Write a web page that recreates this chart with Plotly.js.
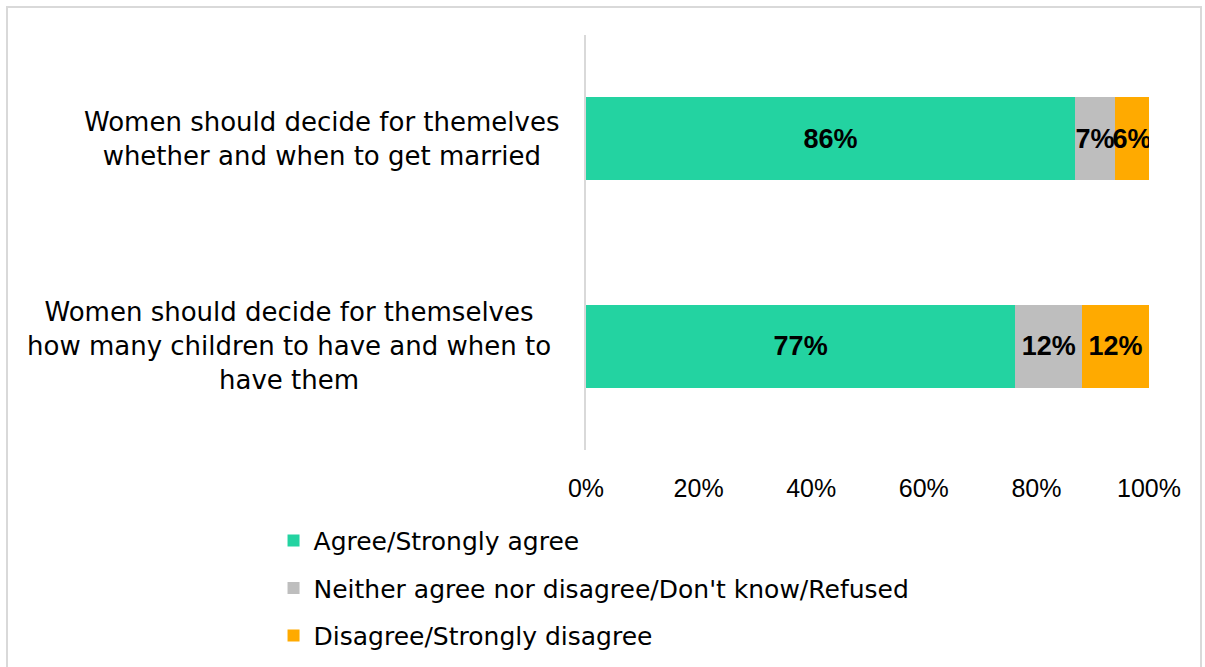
<!DOCTYPE html>
<html>
<head>
<meta charset="utf-8">
<script src="https://cdn.plot.ly/plotly-3.0.1.min.js"></script>
<style>
  html, body { margin: 0; padding: 0; background: #fff; }
  #chart { width: 1205px; height: 667px; }
  #frame { position: absolute; left: 6px; top: 6px; width: 1196px; height: 670px;
           border: 2px solid #d9d9d9; pointer-events: none; box-sizing: border-box; }
</style>
</head>
<body>
<div id="chart"></div>
<div id="frame"></div>
<script>
const categories = [
  "Women should decide for themelves<br>whether and when to get married",
  "Women should decide for themselves<br>how many children to have and when to<br>have them"
];
const seriesNames = [
  "Agree/Strongly agree",
  "Neither agree nor disagree/Don't know/Refused",
  "Disagree/Strongly disagree"
];
const agree = [86, 77];
const neither = [7, 12];
const disagree = [6, 12];
const xTickVals = [0, 20, 40, 60, 80, 100];
const xTickText = ["0%", "20%", "40%", "60%", "80%", "100%"];

const colors = ["#23D3A1", "#BEBEBE", "#FFAA00"];
const values = [agree, neither, disagree];
const catIds = ["c1", "c2"];
const labelShift = [-24, -33];

const traces = values.map((v, i) => ({
  type: "bar",
  orientation: "h",
  name: seriesNames[i],
  y: catIds,
  x: v,
  marker: { color: colors[i] },
  text: v.map(d => d + "%"),
  textposition: "inside",
  insidetextanchor: "middle",
  textangle: 0,
  constraintext: "none",
  textfont: { family: "Liberation Sans Narrow, Liberation Sans, sans-serif", size: 27, color: "#000", weight: "bold" },
  hoverinfo: "none",
  legendgroup: "g" + i
}));

const annotations = catIds.map((c, i) => ({
  xref: "paper", yref: "y",
  x: 0, y: c,
  xanchor: "right", yanchor: "middle",
  xshift: labelShift[i],
  text: categories[i],
  align: "center",
  showarrow: false,
  font: { family: "DejaVu Sans, sans-serif", size: 26, color: "#000" }
}));

const layout = {
  width: 1205, height: 667,
  margin: { l: 586, r: 56, t: 35, b: 217, autoexpand: false },
  paper_bgcolor: "#fff", plot_bgcolor: "#fff",
  barmode: "stack",
  barnorm: "percent",
  bargap: 0.6,
  showlegend: true,
  legend: {
    orientation: "v",
    x: -0.555, xanchor: "left",
    y: -0.163, yanchor: "top",
    traceorder: "grouped",
    tracegroupgap: 12,
    font: { family: "DejaVu Sans, sans-serif", size: 25, color: "#000" }
  },
  xaxis: {
    range: [0, 100],
    tickvals: xTickVals,
    ticktext: xTickText,
    showgrid: false, zeroline: false, showline: false,
    ticks: "",
    ticklabelstandoff: 21,
    tickfont: { family: "Liberation Sans Narrow, Liberation Sans, sans-serif", size: 25, color: "#000" },
    fixedrange: true
  },
  yaxis: {
    autorange: "reversed",
    showticklabels: false,
    showgrid: false, zeroline: false,
    showline: true, linecolor: "#d9d9d9", linewidth: 2,
    ticks: "",
    fixedrange: true
  },
  annotations: annotations
};

Plotly.newPlot("chart", traces, layout, { displayModeBar: false, staticPlot: true });
</script>
</body>
</html>
